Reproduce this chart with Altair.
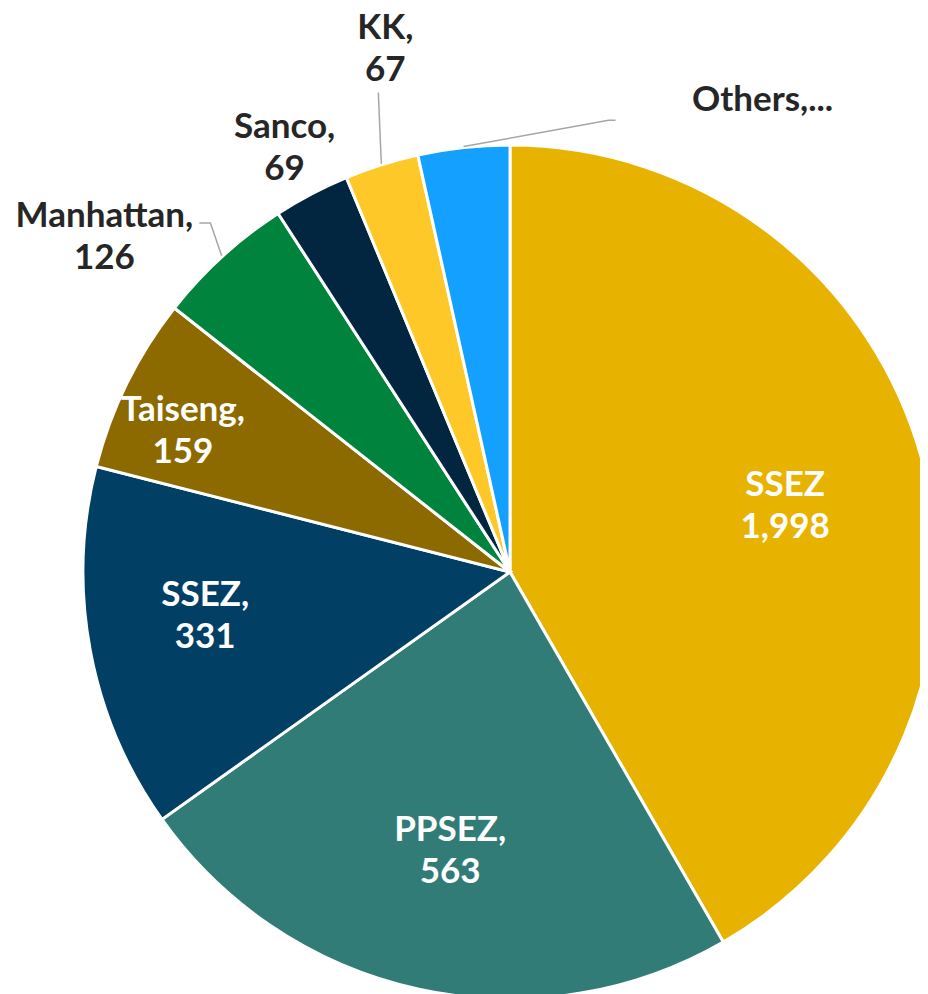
import math
import altair as alt
import pandas as pd

# ---- data ----
names = ["SSEZ", "PPSEZ", "SSEZ", "Taiseng", "Manhattan", "Sanco", "KK", "Others"]
# slice sizes as drawn (the first slice is drawn at 999 although labelled 1,998)
values = [999, 563, 331, 159, 126, 69, 67, 83]
label_text = ["SSEZ\n1,998", "PPSEZ,\n563", "SSEZ,\n331", "Taiseng,\n159",
              "Manhattan,\n126", "Sanco,\n69", "KK,\n67", "Others,..."]
colors = ["#E8B300", "#327C78", "#013F64", "#8C6A00",
          "#00843D", "#02263F", "#FFC829", "#14A0FF"]

# ---- layout / style ----
CX, CY, R = 502, 564, 427
W, H = 912, 986
FONT_SIZE, LINE_H = 35, 42
# per label: (radius, angle shift in degrees from the slice's mid angle, colour)
label_style = [
    (283, 1.5, "white"), (285, -0.2, "white"), (308, 2.3, "white"), (356, -3.0, "white"),
    (526, -8.1, "#262626"), (480, -0.3, "#262626"), (538, 4.1, "#262626"), (535, 34.4, "#262626"),
]
# leader lines: slice index -> offsets (from label block centre) of the points after the slice edge
leaders = {4: [(106, -14), (95, -14)], 6: [(-7, 44)], 7: [(-154, 20), (-147, 20)]}

total = sum(values)
mids = []
acc = 0
for v in values:
    mids.append((acc + v / 2) / total * 360)
    acc += v


def polar(r, deg):
    a = math.radians(deg)
    return CX + r * math.sin(a), CY - r * math.cos(a)


slices = pd.DataFrame({"idx": list(range(len(values))), "name": names, "value": values})

lab_rows = []
for i, (txt, (r, shift, col)) in enumerate(zip(label_text, label_style)):
    x, y = polar(r, mids[i] + shift)
    n_lines = txt.count("\n") + 1
    lab_rows.append({"cx": x, "cy": y, "lx": x, "ly": y - (n_lines - 1) * LINE_H / 2,
                     "text": txt, "tcolor": col})
labels = pd.DataFrame(lab_rows)

lead_rows = []
for i, pts in leaders.items():
    sx, sy = polar(R + 1, mids[i])
    lead_rows.append({"lid": i, "seq": 0, "px": sx, "py": sy})
    ax, ay = lab_rows[i]["cx"], lab_rows[i]["cy"]
    for k, (dx, dy) in enumerate(pts):
        lead_rows.append({"lid": i, "seq": k + 1, "px": ax + dx, "py": ay + dy})
lead = pd.DataFrame(lead_rows)

pie = alt.Chart(slices).mark_arc(outerRadius=R, stroke="white", strokeWidth=3).encode(
    theta=alt.Theta("value:Q", stack=True),
    order=alt.Order("idx:Q", sort="ascending"),
    color=alt.Color("idx:N", scale=alt.Scale(domain=list(range(len(values))), range=colors), legend=None),
    x=alt.value(CX),
    y=alt.value(CY),
)

lines = alt.Chart(lead).mark_line(color="#A6A6A6", strokeWidth=1.5).encode(
    x=alt.X("px:Q", scale=None, axis=None),
    y=alt.Y("py:Q", scale=None, axis=None),
    detail="lid:N",
    order="seq:Q",
)

text = alt.Chart(labels).mark_text(
    font="Lato", fontWeight="bold", fontSize=FONT_SIZE, lineBreak="\n", lineHeight=LINE_H,
    align="center", baseline="middle",
).encode(
    x=alt.X("lx:Q", scale=None, axis=None),
    y=alt.Y("ly:Q", scale=None, axis=None),
    text="text:N",
    color=alt.Color("tcolor:N", scale=None),
)

chart = alt.layer(pie, lines, text).properties(
    width=W, height=H, padding=0, autosize=alt.AutoSizeParams(type="none")
).configure_view(stroke=None)

chart.save("out.html", embed_options={"renderer": "svg", "actions": False})
